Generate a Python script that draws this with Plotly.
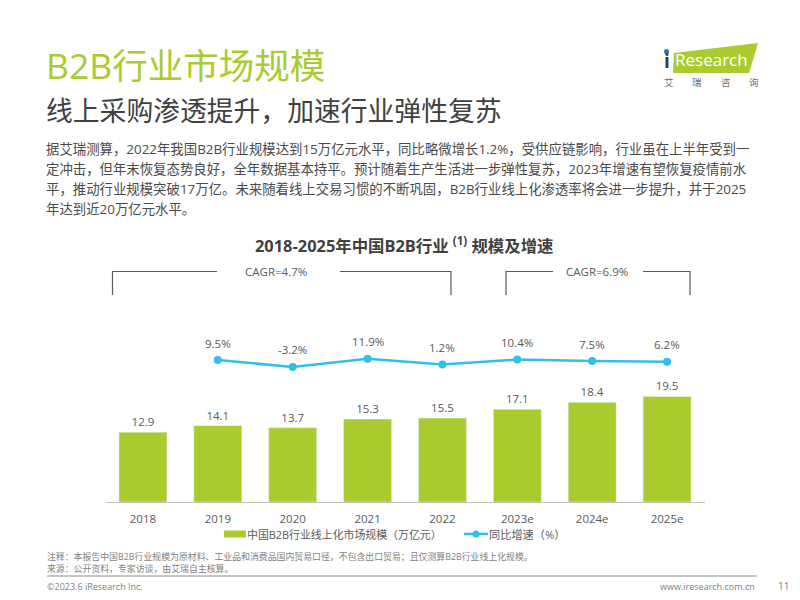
import plotly.graph_objects as go

W, H = 800, 600
FONT = "Open Sans, Noto Sans CJK SC, sans-serif"
GREEN = "#A9CB2D"
BLUE = "#2FBFEA"
GREY = "#595959"

years = ["2018", "2019", "2020", "2021", "2022", "2023e", "2024e", "2025e"]
market_size = [12.9, 14.1, 13.7, 15.3, 15.5, 17.1, 18.4, 19.5]
growth_years = years[1:]
growth = [9.5, -3.2, 11.9, 1.2, 10.4, 7.5, 6.2]
growth_labels = ["9.5%", "-3.2%", "11.9%", "1.2%", "10.4%", "7.5%", "6.2%"]

body_lines = [
    "据艾瑞测算，2022年我国B2B行业规模达到15万亿元水平，同比略微增长1.2%，受供应链影响，行业虽在上半年受到一",
    "定冲击，但年末恢复态势良好，全年数据基本持平。预计随着生产生活进一步弹性复苏，2023年增速有望恢复疫情前水",
    "平，推动行业规模突破17万亿。未来随着线上交易习惯的不断巩固，B2B行业线上化渗透率将会进一步提升，并于2025",
    "年达到近20万亿元水平。",
]


def px(x):
    return x / W


def py(y):
    return 1 - y / H


fig = go.Figure()

fig.add_trace(
    go.Bar(
        x=years,
        y=market_size,
        name="中国B2B行业线上化市场规模（万亿元）",
        marker_color=GREEN,
        width=0.64,
        text=[f"{v:.1f}" for v in market_size],
        textposition="outside",
        textfont=dict(size=11.5, color=GREY),
        cliponaxis=False,
    )
)
fig.add_trace(
    go.Scatter(
        x=growth_years,
        y=growth,
        yaxis="y2",
        name="同比增速（%）",
        mode="lines+markers",
        line=dict(color=BLUE, width=2.5),
        marker=dict(color=BLUE, size=8),
    )
)


def label(x, y, text, size=11, color=GREY, anchor="left", bold=False):
    fig.add_annotation(
        x=px(x), y=py(y), xref="paper", yref="paper", text=f"<b>{text}</b>" if bold else text,
        showarrow=False, xanchor=anchor, yanchor="middle", align=anchor,
        borderpad=0, borderwidth=0,
        font=dict(size=size, color=color, family=FONT),
    )


# growth labels sit a fixed distance above the markers
# (x is the category index: a string like "2019" would be read as a position)
for g_year, g_val, g_text in zip(growth_years, growth, growth_labels):
    fig.add_annotation(
        x=years.index(g_year), y=g_val, yref="y2", text=g_text, showarrow=False,
        yshift=17, font=dict(size=11.5, color=GREY, family=FONT),
    )

label(46, 65, "B2B行业市场规模", size=35.5, color=GREEN)
label(46, 110, "线上采购渗透提升，加速行业弹性复苏", size=26.8, color="#404040")
for i, line in enumerate(body_lines):
    label(46, 149 + i * 20, line, size=13.4, color="#4A4A4A")

label(404, 245, "2018-2025年中国B2B行业 <sup>(1)</sup> 规模及增速", size=16.4, color="#404040", anchor="center", bold=True)
label(276, 271, "CAGR=4.7%", size=11.5, anchor="center")
label(597, 271, "CAGR=6.9%", size=11.5, anchor="center")

label(247, 534, "中国B2B行业线上化市场规模（万亿元）", size=10.9)
label(489, 534, "同比增速（%）", size=11.2)

label(
    47, 562,
    "注释：本报告中国B2B行业规模为原材料、工业品和消费品国内贸易口径，不包含出口贸易；且仅测算B2B行业线上化规模。"
    "<br>来源：公开资料，专家访谈，由艾瑞自主核算。",
    size=8.9, color="#7F7F7F",
)
label(47, 586, "©2023.6 iResearch Inc.", size=9, color="#7F7F7F")
label(755, 586, "www.iresearch.com.cn", size=9, color="#7F7F7F", anchor="right")
label(783, 586, "11", size=10, color="#7F7F7F", anchor="center")

# logo
label(664, 61, "<b>i</b>", size=19, color="#3A3A3A")
label(675, 59, "Research", size=17, color="white")
for logo_x, logo_char in zip([669, 697, 726, 754], "艾瑞咨询"):
    label(logo_x, 82, logo_char, size=9.5, color="#6E6E6E", anchor="center")


def shape_line(points, color="#595959", width=1.2):
    path = "M" + " L".join(f"{px(x):.4f},{py(y):.4f}" for x, y in points)
    fig.add_shape(type="path", path=path, xref="paper", yref="paper", line=dict(color=color, width=width))


fig.add_shape(
    type="path", xref="paper", yref="paper", layer="below",
    path="M" + " L".join(f"{px(x):.4f},{py(y):.4f}" for x, y in [(674, 53), (758, 43), (749, 73), (673, 73)]) + " Z",
    fillcolor=GREEN, line=dict(width=0),
)
fig.add_shape(
    type="circle", xref="paper", yref="paper", fillcolor="#2F6FB5", line=dict(width=0),
    x0=px(664), x1=px(669), y0=py(54), y1=py(49),
)

shape_line([(112.5, 295), (112.5, 271.5), (217, 271.5)])
shape_line([(340, 271.5), (451, 271.5), (451, 295)])
shape_line([(506, 295), (506, 271.5), (553, 271.5)])
shape_line([(643, 271.5), (690, 271.5), (690, 295)])
shape_line([(47, 576), (757, 576)], color="#8C8C8C", width=1)

# legend keys, drawn by hand since the plotly swatch is a small square
fig.add_shape(
    type="rect", xref="paper", yref="paper", fillcolor=GREEN, line=dict(width=0),
    x0=px(224), x1=px(246), y0=py(537.5), y1=py(530.5),
)
shape_line([(464, 534), (488, 534)], color=BLUE, width=2.5)
fig.add_shape(
    type="circle", xref="paper", yref="paper", fillcolor=BLUE, line=dict(width=0),
    x0=px(472.5), x1=px(479.5), y0=py(537.5), y1=py(530.5),
)

fig.update_layout(
    width=W,
    height=H,
    autosize=False,
    margin=dict(l=0, r=0, t=0, b=0),
    paper_bgcolor="white",
    plot_bgcolor="rgba(0,0,0,0)",
    font=dict(family=FONT, color=GREY),
    xaxis=dict(
        domain=[px(105.5), px(704.5)],
        type="category",
        categoryorder="array",
        categoryarray=years,
        range=[-0.5, 7.5],
        showgrid=False,
        showline=True,
        linecolor="#BFBFBF",
        linewidth=1,
        ticks="",
        ticklabelstandoff=6,
        tickfont=dict(size=11.5, color=GREY),
    ),
    yaxis=dict(
        domain=[py(502), py(372)],
        range=[0, 24],
        visible=False,
    ),
    yaxis2=dict(
        domain=[py(390), py(330)],
        range=[-45, 64],
        visible=False,
        anchor="x",
    ),
    showlegend=False,
)

# the page's default body margin would push everything 8px down and right
fig.write_html(
    "out.html",
    config=dict(displayModeBar=False),
    post_script="document.body.style.margin='0';",
)
